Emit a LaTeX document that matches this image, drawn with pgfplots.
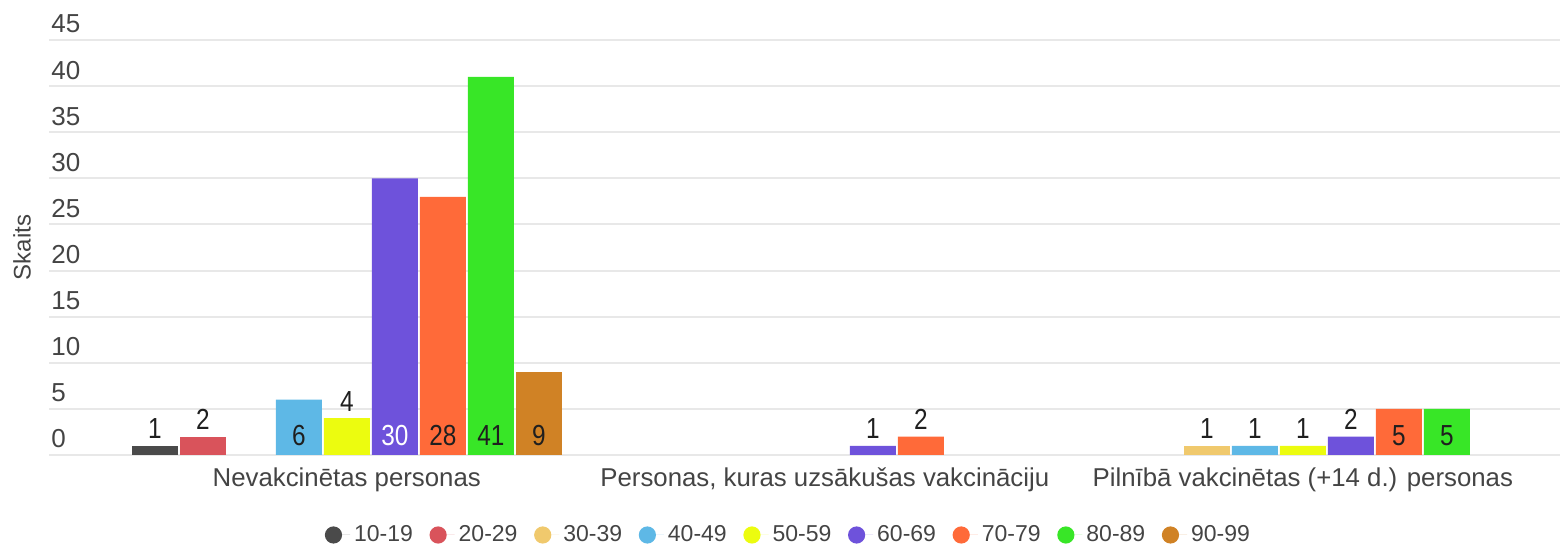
\documentclass[border=0pt]{standalone}
\usepackage{pgfplots}
\pgfplotsset{compat=1.18}
\usepackage{fontspec}
\setmainfont{Liberation Sans}
\newfontfamily\condfont[FakeStretch=0.84]{Liberation Sans}

\definecolor{c1}{HTML}{4A4A4A}
\definecolor{c2}{HTML}{D9535B}
\definecolor{c3}{HTML}{F0C96D}
\definecolor{c4}{HTML}{5EB8E6}
\definecolor{c5}{HTML}{ECFC0F}
\definecolor{c6}{HTML}{6E52DB}
\definecolor{c7}{HTML}{FF6A39}
\definecolor{c8}{HTML}{38E627}
\definecolor{c9}{HTML}{D08225}
\definecolor{txt}{HTML}{444444}
\definecolor{gridc}{HTML}{E8E8E8}

\pgfplotsset{
  dot legend/.style={legend image code/.code={%
    \fill[##1] (4.3pt,0pt) circle (4.3pt);
    \path (0pt,0pt) -- (12.6pt,0pt);}},
}

\begin{document}
\begin{tikzpicture}
\begin{axis}[
  name=ax,
  scale only axis,
  width=755.5pt, height=207.5pt,
  xmin=-0.623, xmax=2.538, ymin=0, ymax=45,
  ybar, bar width=23pt,
  axis line style={draw=none},
  major tick length=0pt,
  ymajorgrids,
  major grid style={gridc, line width=1pt},
  ytick={0,5,...,45},
  /pgf/number format/assume math mode=true,
  yticklabel style={anchor=base west, inner sep=0pt, xshift=1pt, yshift=3.5pt,
    font=\fontsize{13}{14}\selectfont, text=txt},
  xtick={0,1,2},
  xticklabels={Nevakcinētas personas,{Personas, kuras uzsākušas vakcināciju},Pilnībā vakcinētas (+14 d.) personas},
  xticklabel style={font=\fontsize{12.9}{14}\selectfont, text=txt, yshift=-3pt},
  ylabel={Skaits},
  ylabel style={at={(axis description cs:-0.0073,0.5)}, anchor=south,
    font=\fontsize{12}{14}\selectfont, text=txt},
  visualization depends on={y \as \rawy},
  nodes near coords,
  every node near coord/.append style={font=\condfont\fontsize{14.5}{15}\selectfont,
    text=black!88, anchor=south, yshift={(\rawy<4.5) ? 0 : (1-\rawy*4.6111)}},
  legend columns=9,
  legend style={at={(0.490,0)}, anchor=center, yshift=-40pt, draw=none, fill=none,
    font=\fontsize{11.5}{12}\selectfont, text=txt,
    /tikz/every even column/.append style={column sep=6.3pt}},
]
\addplot[fill=c1, draw=none, bar shift=-96pt, dot legend] coordinates {(0,1)};
\addlegendentry{10-19}
\addplot[fill=c2, draw=none, bar shift=-72pt, dot legend] coordinates {(0,2)};
\addlegendentry{20-29}
\addplot[fill=c3, draw=none, bar shift=-48pt, dot legend] coordinates {(2,1)};
\addlegendentry{30-39}
\addplot[fill=c4, draw=none, bar shift=-24pt, dot legend] coordinates {(0,6) (2,1)};
\addlegendentry{40-49}
\addplot[fill=c5, draw=none, bar shift=0pt, dot legend] coordinates {(0,4) (2,1)};
\addlegendentry{50-59}
\addplot[fill=c6, draw=none, bar shift=24pt, dot legend,
  nodes near coords={\ifdim\rawy pt>4.5pt\color{white}\fi\pgfmathprintnumber{\rawy}}]
  coordinates {(0,30) (1,1) (2,2)};
\addlegendentry{60-69}
\addplot[fill=c7, draw=none, bar shift=48pt, dot legend] coordinates {(0,28) (1,2) (2,5)};
\addlegendentry{70-79}
\addplot[fill=c8, draw=none, bar shift=72pt, dot legend] coordinates {(0,41) (2,5)};
\addlegendentry{80-89}
\addplot[fill=c9, draw=none, bar shift=96pt, dot legend] coordinates {(0,9)};
\addlegendentry{90-99}
\end{axis}
\path ([shift={(-24.5pt,-45pt)}]ax.south west) rectangle ([shift={(2pt,20pt)}]ax.north east);
\end{tikzpicture}
\end{document}
